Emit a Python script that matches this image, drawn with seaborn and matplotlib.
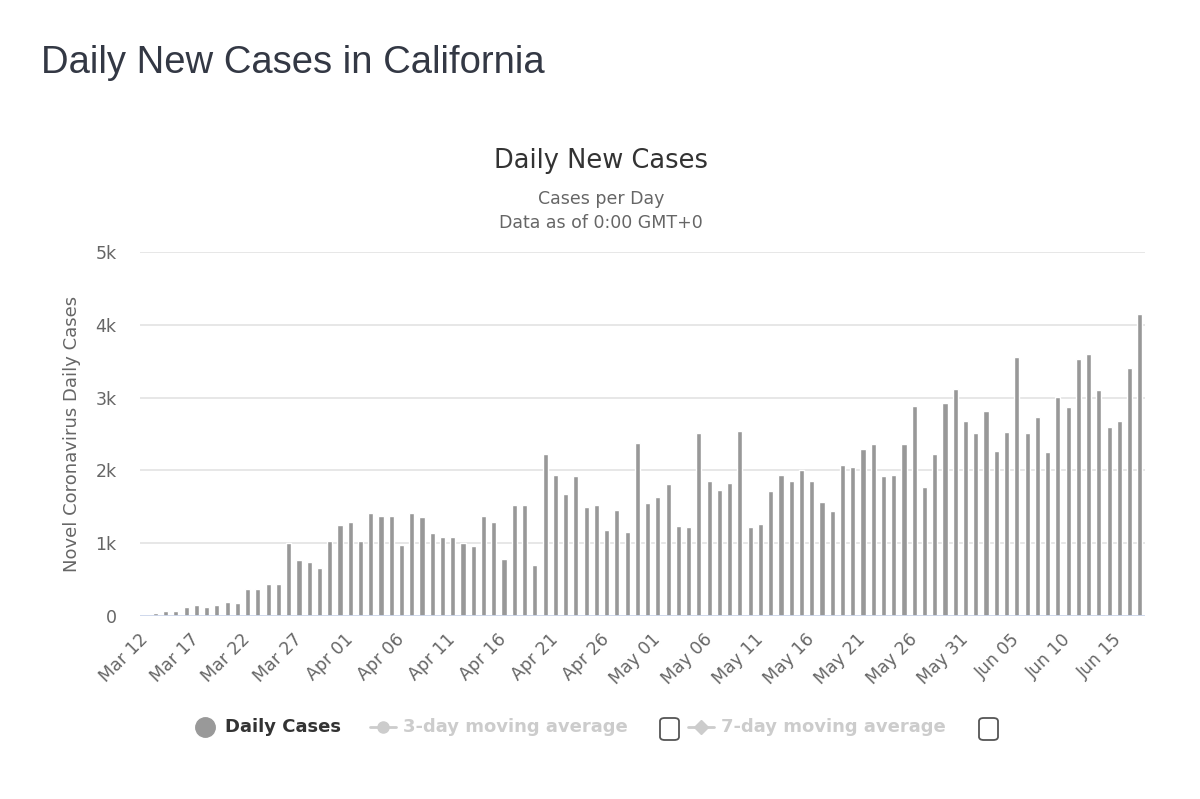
import matplotlib
matplotlib.use("Agg")
import matplotlib.pyplot as plt
from matplotlib.lines import Line2D
from matplotlib.patches import FancyBboxPatch
import numpy as np
import pandas as pd
import seaborn as sns

# ---------------- data ----------------
dates = pd.date_range("2020-03-12", "2020-06-17", freq="D")
date_labels = [d.strftime("%b %d") for d in dates]

daily_cases = [
    0, 40, 65, 65, 130, 150, 130, 150, 195, 175,
    370, 370, 435, 435, 1000, 765, 745, 657, 1027, 1247,
    1292, 1027, 1420, 1374, 1374, 982, 1420, 1356, 1137, 1091,
    1091, 1005, 959, 1374, 1288, 785, 1525, 1525, 699, 2224,
    1941, 1680, 1918, 1502, 1525, 1178, 1461, 1155, 2374, 1548,
    1634, 1808, 1242, 1219, 2507, 1854, 1726, 1831, 2548, 1219,
    1265, 1721, 1941, 1854, 2007, 1854, 1571, 1438, 2073, 2050,
    2292, 2356, 1918, 1941, 2356, 2881, 1767, 2228, 2922, 3119,
    2685, 2511, 2818, 2270, 2530, 3552, 2511, 2730, 2247, 3014,
    2877, 3534, 3598, 3100, 2598, 2685, 3406, 4146,
]

y_ticks = [0, 1000, 2000, 3000, 4000, 5000]
y_tick_labels = ["0", "1k", "2k", "3k", "4k", "5k"]

legend_labels = ["Daily Cases", "3-day moving average", "7-day moving average"]

df = pd.DataFrame({"date": date_labels, "cases": daily_cases})

# ---------------- figure ----------------
sns.set_theme(style="white")
plt.rcParams["font.family"] = ["DejaVu Sans"]

W, H = 1200, 799
fig = plt.figure(figsize=(W / 100, H / 100), dpi=100)
fig.patch.set_facecolor("white")

def fx(px):
    return px / W

def fy(py):
    return 1 - py / H

ax = fig.add_axes([fx(140), fy(616), fx(1145) - fx(140), fy(252) - fy(616)])

sns.barplot(data=df, x="date", y="cases", color="#989898", width=0.5,
            saturation=1, ax=ax, zorder=3)

ax.set_ylim(0, 5000)
ax.set_xlim(-0.5, len(date_labels) - 0.5)

# grid
ax.set_yticks(y_ticks)
ax.set_yticklabels(y_tick_labels)
for t in y_ticks[1:]:
    ax.axhline(t, color="#e3e3e3", lw=1.2, zorder=1)
ax.axhline(0, color="#ccd6eb", lw=1.3, zorder=4)
for s in ax.spines.values():
    s.set_visible(False)

# x ticks every 5 days
tick_pos = list(range(0, len(date_labels), 5))
ax.set_xticks(tick_pos)
ax.set_xticklabels([date_labels[i] for i in tick_pos], rotation=45,
                   ha="right", va="center", rotation_mode="anchor")
ax.tick_params(axis="x", length=0, pad=15, labelsize=12.5, labelcolor="#666666")
ax.tick_params(axis="y", length=0, pad=17, labelsize=12.5, labelcolor="#666666")

ax.set_xlabel("")
ax.set_ylabel("Novel Coronavirus Daily Cases", fontsize=13, color="#666666",
              va="center")
ax.yaxis.set_label_coords((72 - 140) / 1005, 0.5)

# ---------------- titles ----------------
fig.text(fx(41), fy(63), "Daily New Cases in California", fontsize=27.5,
         family=["Liberation Sans", "DejaVu Sans"], color="#333844",
         ha="left", va="center")
fig.text(fx(601), fy(161), "Daily New Cases", fontsize=18.5, color="#333333",
         ha="center", va="center")
fig.text(fx(601), fy(199), "Cases per Day", fontsize=12.5, color="#666666",
         ha="center", va="center")
fig.text(fx(601), fy(223), "Data as of 0:00 GMT+0", fontsize=12.5,
         color="#666666", ha="center", va="center")

# ---------------- legend ----------------
ly = 727
fig.add_artist(Line2D([fx(205)], [fy(ly)], transform=fig.transFigure,
                      marker="o", markersize=14, color="#999999", lw=0))
fig.text(fx(225), fy(ly), legend_labels[0], fontsize=13, fontweight="bold",
         color="#333333", ha="left", va="center")

fig.add_artist(Line2D([fx(370), fx(396)], [fy(ly), fy(ly)],
                      transform=fig.transFigure, color="#cccccc", lw=2))
fig.add_artist(Line2D([fx(383)], [fy(ly)], transform=fig.transFigure,
                      marker="o", markersize=8, color="#cccccc", lw=0))
fig.text(fx(403), fy(ly), legend_labels[1], fontsize=13, fontweight="bold",
         color="#cccccc", ha="left", va="center")

fig.add_artist(Line2D([fx(688), fx(714)], [fy(ly), fy(ly)],
                      transform=fig.transFigure, color="#cccccc", lw=2))
fig.add_artist(Line2D([fx(701)], [fy(ly)], transform=fig.transFigure,
                      marker="D", markersize=7, color="#cccccc", lw=0))
fig.text(fx(721), fy(ly), legend_labels[2], fontsize=13, fontweight="bold",
         color="#cccccc", ha="left", va="center")

for bx in (660, 979):
    box = FancyBboxPatch((fx(bx), fy(740)), fx(19), fy(718) - fy(740),
                         boxstyle="round,pad=0,rounding_size=0.004",
                         transform=fig.transFigure, facecolor="white",
                         edgecolor="#555555", lw=1.3)
    fig.add_artist(box)

fig.savefig("out.png", dpi=100, facecolor="white")
